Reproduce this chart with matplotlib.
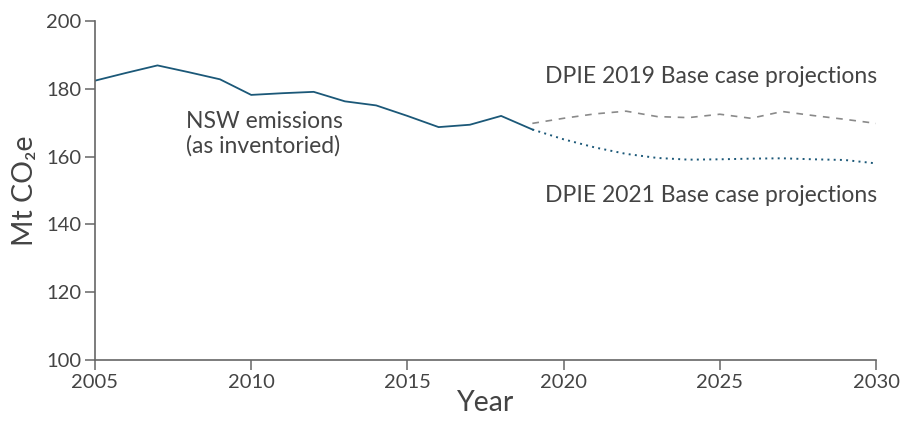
import matplotlib
matplotlib.use("Agg")
import matplotlib.pyplot as plt

plt.rcParams['font.family'] = ['Lato', 'DejaVu Sans']

hist_years = list(range(2005, 2020))
hist_vals = [182.4, 184.7, 186.9, 184.9, 182.8, 178.2, 178.7, 179.1,
             176.3, 175.1, 172.0, 168.7, 169.4, 172.0, 168.0]

proj_years = list(range(2019, 2031))
proj2019 = [169.8, 171.3, 172.6, 173.4, 171.8, 171.5, 172.5, 171.3,
            173.3, 172.1, 171.0, 169.8]
proj2021 = [168.0, 165.1, 162.7, 160.8, 159.6, 159.1, 159.2, 159.4,
            159.5, 159.2, 159.0, 158.0]

xticks = [2005, 2010, 2015, 2020, 2025, 2030]
yticks = [100, 120, 140, 160, 180, 200]

line_col = '#1b5878'
grey = '#8a8a8a'
text_col = '#444444'

fig = plt.figure(figsize=(9.2, 4.23), dpi=100)
ax = fig.add_axes([95/920, 63/423, 781/920, 339/423])

ax.plot(hist_years, hist_vals, color=line_col, lw=1.3)
ax.plot(proj_years, proj2019, color=grey, lw=1.2, dashes=(4, 4))
ax.plot(proj_years, proj2021, color=line_col, lw=1.4, dashes=(1, 2.2))

ax.set_xlim(2005, 2030)
ax.set_ylim(100, 200)
ax.set_xticks(xticks)
ax.set_yticks(yticks)
ax.tick_params(direction='out', length=7, width=1.1, color='#666666',
               labelsize=14.5, labelcolor=text_col, pad=3)
for s in ['top', 'right']:
    ax.spines[s].set_visible(False)
for s in ['left', 'bottom']:
    ax.spines[s].set_color('#666666')
    ax.spines[s].set_linewidth(1.2)

ax.set_xlabel('Year', fontsize=20.5, color=text_col, labelpad=-1)
ax.set_ylabel('Mt CO\u2082e', fontsize=20.5, color=text_col, labelpad=6)

ax.text(2030.05, 183.5, 'DPIE 2019 Base case projections', ha='right', va='center',
        fontsize=16.5, color=text_col)
ax.text(2030.05, 148.4, 'DPIE 2021 Base case projections', ha='right', va='center',
        fontsize=16.5, color=text_col)
ax.text(2007.9, 166.8, 'NSW emissions\n(as inventoried)', ha='left', va='center',
        fontsize=16.5, color=text_col, linespacing=1.15)

fig.savefig('out.png', dpi=100)
